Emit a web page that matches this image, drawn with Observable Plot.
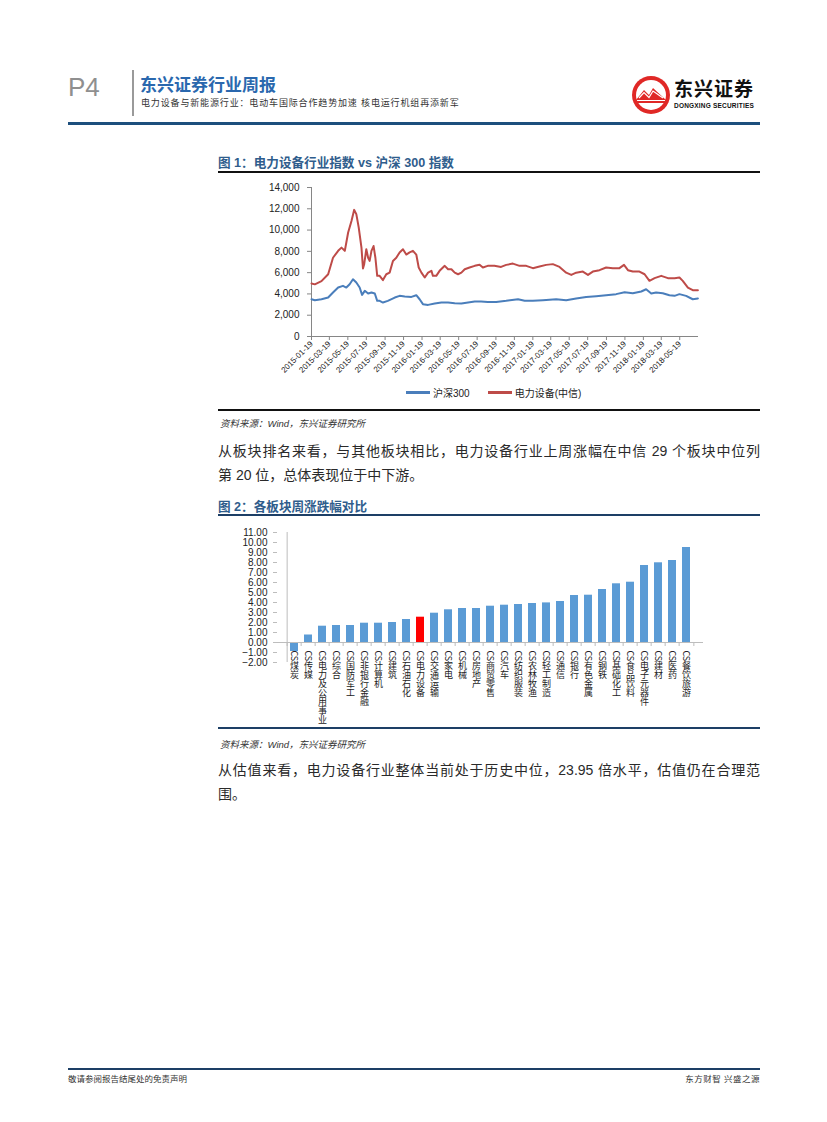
<!DOCTYPE html>
<html><head><meta charset="utf-8">
<script src="https://cdn.jsdelivr.net/npm/d3@7"></script>
<script src="https://cdn.jsdelivr.net/npm/@observablehq/plot@0.6"></script>
<style>
body{margin:0;background:#fff;}
#page{position:relative;width:827px;height:1122px;overflow:hidden;background:#fff;font-family:"Liberation Sans",Arial,"Noto Sans CJK SC",sans-serif;color:#222;}
.abs{position:absolute;white-space:nowrap;}
.figt{font-size:12.6px;font-weight:bold;color:#2f5d8c;}
.src{font-size:9.5px;font-style:italic;color:#333;}
.para{width:542px;font-size:14px;line-height:24px;color:#2a2a2a;text-align:justify;}
.just{text-align-last:justify;}
.leg{display:flex;align-items:center;font-size:10px;color:#222;}
.leg span.sw{display:inline-block;width:24px;height:2.5px;margin-right:3px;}
</style></head>
<body><div id="page">
  <div class="abs" style="left:68px;top:72px;font-size:26px;color:#8f8f8f;font-family:'Liberation Sans',Arial;">P4</div>
  <div class="abs" style="left:132px;top:70px;width:2px;height:46px;background:#9a9a9a;"></div>
  <div class="abs" style="left:140px;top:71px;font-size:17px;font-weight:bold;color:#2a68ae;">东兴证券行业周报</div>
  <div class="abs" style="left:141px;top:96px;font-size:9px;letter-spacing:0.85px;color:#333;">电力设备与新能源行业：电动车国际合作趋势加速 核电运行机组再添新军</div>
  <svg class="abs" style="left:630px;top:74px;" width="42" height="42" viewBox="0 0 42 42">
    <circle cx="21" cy="21" r="19" fill="#e02826"/>
    <circle cx="21" cy="21" r="15" fill="#fff"/>
    <path d="M6,26 L14,16 L19,21 L23,14 L36,26 Z" fill="#e02826"/>
    <path d="M9,24 L14,18.5 L19,23.5 L23,17 L33,24" fill="none" stroke="#fff" stroke-width="1.2"/>
    <path d="M7,28 L36,28" stroke="#e02826" stroke-width="2"/>
  </svg>
  <div class="abs" style="left:674px;top:80px;font-size:19px;line-height:19px;font-weight:bold;color:#111;letter-spacing:1px;">东兴证券</div>
  <div class="abs" style="left:674px;top:102px;font-size:6.5px;line-height:7px;font-weight:bold;color:#111;letter-spacing:0.2px;">DONGXING SECURITIES</div>
  <div class="abs" style="left:68px;top:122px;width:692px;height:3px;background:#1d4f7d;"></div>

  <div class="abs figt" style="left:218px;top:152px;">图 1：电力设备行业指数 vs 沪深 300 指数</div>
  <div class="abs" style="left:218px;top:171px;width:542px;height:1.5px;background:#111;"></div>
  <div class="abs" id="chart1" style="left:218px;top:176px;"></div>
  <div class="abs leg" style="left:406px;top:385px;">
    <span class="sw" style="background:#4a7ebb"></span><span id="leg0">沪深300</span>
    <span class="sw" style="background:#be4b48;margin-left:18px"></span><span id="leg1">电力设备(中信)</span>
  </div>
  <div class="abs" style="left:218px;top:409px;width:542px;height:1.5px;background:#111;"></div>
  <div class="abs src" style="left:220px;top:416px;">资料来源：Wind，东兴证券研究所</div>

  <div class="abs para just" style="left:218px;top:439px;">从板块排名来看，与其他板块相比，电力设备行业上周涨幅在中信 29 个板块中位列</div>
  <div class="abs para" style="left:218px;top:463px;">第 20 位，总体表现位于中下游。</div>

  <div class="abs figt" style="left:218px;top:496px;">图 2：各板块周涨跌幅对比</div>
  <div class="abs" style="left:218px;top:514px;width:542px;height:1.5px;background:#1d3f66;"></div>
  <div class="abs" id="chart2" style="left:218px;top:522px;"></div>
  <div class="abs" style="left:218px;top:727px;width:542px;height:1.5px;background:#1d3f66;"></div>
  <div class="abs src" style="left:220px;top:737px;">资料来源：Wind，东兴证券研究所</div>

  <div class="abs para just" style="left:218px;top:758px;">从估值来看，电力设备行业整体当前处于历史中位，23.95 倍水平，估值仍在合理范</div>
  <div class="abs para" style="left:218px;top:782px;">围。</div>

  <div class="abs" style="left:68px;top:1068px;width:692px;height:2px;background:#1d3f66;"></div>
  <div class="abs" style="left:68px;top:1072px;font-size:8.5px;color:#333;">敬请参阅报告结尾处的免责声明</div>
  <div class="abs" style="left:660px;top:1072px;width:100px;text-align:right;font-size:8.5px;color:#333;letter-spacing:0.5px;">东方财智 兴盛之源</div>
</div>
<script>
// ---- Figure 1 data: index levels ----
const hs300 = [
["2015-01-19",3500],["2015-01-30",3410],["2015-02-21",3500],["2015-03-15",3660],["2015-03-31",4130],
["2015-04-17",4600],["2015-05-03",4760],["2015-05-14",4600],["2015-05-25",4910],["2015-06-05",5380],
["2015-06-16",5070],["2015-06-27",4600],["2015-07-05",3910],["2015-07-14",4290],["2015-07-25",4040],
["2015-08-05",4130],["2015-08-16",4040],["2015-08-24",3350],["2015-09-01",3350],["2015-09-12",3190],
["2015-09-28",3350],["2015-10-21",3660],["2015-11-06",3820],["2015-11-23",3760],["2015-12-15",3720],
["2015-12-31",3880],["2016-01-11",3500],["2016-01-22",3040],["2016-02-08",2970],["2016-03-01",3100],
["2016-03-23",3190],["2016-04-14",3190],["2016-05-06",3130],["2016-05-28",3100],["2016-06-19",3190],
["2016-07-11",3290],["2016-08-01",3290],["2016-08-23",3250],["2016-09-20",3250],["2016-10-23",3350],
["2016-12-01",3500],["2016-12-23",3350],["2017-01-19",3350],["2017-02-21",3410],["2017-04-06",3500],
["2017-05-09",3410],["2017-06-11",3570],["2017-07-14",3720],["2017-08-16",3790],["2017-09-18",3880],
["2017-10-21",3980],["2017-11-18",4160],["2017-12-15",4070],["2018-01-12",4230],["2018-01-28",4440],
["2018-02-14",4040],["2018-03-02",4130],["2018-03-24",4070],["2018-04-15",3880],["2018-05-02",3820],
["2018-05-18",3980],["2018-06-09",3820],["2018-07-01",3500],["2018-07-18",3570]
];
const dlsb = [
["2015-01-19",4980],["2015-01-30",4900],["2015-02-21",5200],["2015-03-15",5850],["2015-03-31",7400],
["2015-04-17",8050],["2015-04-28",8350],["2015-05-09",8050],["2015-05-20",9770],["2015-05-31",10860],
["2015-06-09",11900],["2015-06-16",11500],["2015-06-24",10230],["2015-07-03",8350],["2015-07-08",6400],
["2015-07-12",6800],["2015-07-19",8200],["2015-07-25",7400],["2015-07-30",7100],["2015-08-05",8050],
["2015-08-12",8500],["2015-08-18",7400],["2015-08-24",5700],["2015-09-01",5700],["2015-09-12",5300],
["2015-09-23",5850],["2015-10-04",6000],["2015-10-15",7100],["2015-10-26",7400],["2015-11-06",7900],
["2015-11-17",8200],["2015-11-28",7700],["2015-12-09",7900],["2015-12-20",8050],["2015-12-31",7700],
["2016-01-08",6480],["2016-01-17",6000],["2016-01-28",5540],["2016-02-08",6000],["2016-02-19",6170],
["2016-02-24",5700],["2016-03-06",5700],["2016-03-17",6170],["2016-04-03",6640],["2016-04-14",6320],
["2016-04-25",6320],["2016-05-06",6000],["2016-05-17",5850],["2016-05-28",6000],["2016-06-08",6320],
["2016-06-24",6480],["2016-07-11",6640],["2016-07-27",6750],["2016-08-07",6480],["2016-08-23",6640],
["2016-09-14",6640],["2016-10-06",6540],["2016-10-23",6730],["2016-11-14",6850],["2016-12-06",6640],
["2016-12-28",6640],["2017-01-19",6420],["2017-02-10",6570],["2017-03-04",6730],["2017-03-26",6800],
["2017-04-17",6540],["2017-05-09",6000],["2017-05-26",5790],["2017-06-11",6000],["2017-07-03",6100],
["2017-07-20",5790],["2017-08-05",6100],["2017-08-27",6230],["2017-09-18",6480],["2017-10-10",6420],
["2017-11-01",6420],["2017-11-16",6730],["2017-11-29",6230],["2017-12-15",6100],["2018-01-06",6100],
["2018-01-23",5850],["2018-02-08",5230],["2018-02-25",5480],["2018-03-19",5700],["2018-04-10",5480],
["2018-05-02",5480],["2018-05-18",5540],["2018-05-29",5230],["2018-06-15",4600],["2018-07-01",4350],
["2018-07-18",4350]
];
const seriesNames = ["沪深300","电力设备(中信)"];
const seriesColors = ["#4a7ebb","#be4b48"];
const xTickLabels = ["2015-01-19","2015-03-19","2015-05-19","2015-07-19","2015-09-19","2015-11-19",
"2016-01-19","2016-03-19","2016-05-19","2016-07-19","2016-09-19","2016-11-19",
"2017-01-19","2017-03-19","2017-05-19","2017-07-19","2017-09-19","2017-11-19",
"2018-01-19","2018-03-19","2018-05-19"];
const xDomain1 = ["2015-01-19","2018-07-20"];
const yTicks1 = [0,2000,4000,6000,8000,10000,12000,14000];

// ---- Figure 2 data: weekly change (%) by CITIC sector ----
const sectors = ["煤炭","传媒","电力及公用事业","综合","国防军工","非银行金融","计算机","建筑","石油石化","电力设备",
"交通运输","家电","机械","房地产","商贸零售","汽车","纺织服装","农林牧渔","轻工制造","通信",
"银行","有色金属","钢铁","基础化工","食品饮料","电子元器件","建材","医药","餐饮旅游"];
const changes = [-0.9,0.75,1.63,1.70,1.70,1.93,1.93,2.00,2.30,2.53,
2.93,3.27,3.40,3.40,3.63,3.73,3.80,3.90,3.96,4.10,
4.70,4.73,5.30,5.87,6.03,7.70,7.97,8.20,9.50];
const highlight = "电力设备";
const yTicks2 = [-2,-1,0,1,2,3,4,5,6,7,8,9,10,11];

document.getElementById("leg0").textContent = seriesNames[0];
document.getElementById("leg1").textContent = seriesNames[1];

const parse = d3.utcParse("%Y-%m-%d");
const axisGray = "#868686";
const font = "'Liberation Sans', Arial, 'Noto Sans CJK SC', sans-serif";

const rows1 = [
  ...hs300.map(([d, v]) => ({date: parse(d), value: v, series: seriesNames[0]})),
  ...dlsb.map(([d, v]) => ({date: parse(d), value: v, series: seriesNames[1]}))
];

const chart1 = Plot.plot({
  width: 542, height: 208,
  marginLeft: 93, marginRight: 62, marginTop: 11, marginBottom: 48,
  style: {fontFamily: font, fontSize: "10px", color: "#222", background: "transparent", overflow: "visible"},
  x: {type: "utc", domain: xDomain1.map(parse)},
  y: {domain: [0, 14000]},
  color: {domain: seriesNames, range: seriesColors},
  marks: [
    Plot.ruleX([parse(xDomain1[0])], {stroke: axisGray}),
    Plot.ruleY([0], {stroke: axisGray}),
    Plot.axisY({ticks: yTicks1, tickFormat: d3.format(","), tickSize: 4, tickPadding: 8, label: null, stroke: axisGray, fill: "#222", fontSize: 10}),
    Plot.axisX({ticks: xTickLabels.map(parse), tickFormat: d3.utcFormat("%Y-%m-%d"), tickRotate: -45, tickSize: 4, tickPadding: 2, label: null, stroke: axisGray, fill: "#222", fontSize: 8}),
    Plot.line(rows1, {x: "date", y: "value", z: "series", stroke: "series", strokeWidth: 2})
  ]
});
document.getElementById("chart1").appendChild(chart1);

const rows2 = sectors.map((s, i) => ({name: s, value: changes[i]}));
const w2 = 542, ml2 = 59, mr2 = 57;
const step = (w2 - ml2 - mr2) / sectors.length;

const chart2 = Plot.plot({
  width: w2, height: 203,
  marginLeft: ml2, marginRight: mr2, marginTop: 10, marginBottom: 63,
  style: {fontFamily: font, fontSize: "10px", color: "#222", background: "transparent", overflow: "visible"},
  x: {domain: sectors, paddingInner: 0.43, paddingOuter: 0.215, axis: null},
  y: {domain: [-2, 11]},
  color: {type: "identity"},
  marks: [
    Plot.barY(rows2, {x: "name", y: "value", fill: d => d.name === highlight ? "#ff0000" : "#5b9bd5"}),
    Plot.ruleY([0], {stroke: "#bdbdbd"}),
    Plot.ruleX([sectors[0]], {dx: -step / 2, stroke: "#bdbdbd"}),
    Plot.ruleX(sectors, {x: d => d, y1: () => 0, y2: () => -0.4, dx: -step / 2, stroke: "#bdbdbd"}),
    Plot.ruleX([sectors[sectors.length - 1]], {y1: () => 0, y2: () => -0.4, dx: step / 2, stroke: "#bdbdbd"}),
    Plot.axisY({ticks: yTicks2, tickFormat: d3.format(".2f"), tickSize: 4, tickPadding: 6, label: null, stroke: "#bdbdbd", fill: "#222", fontSize: 10}),
    Plot.text(rows2, {x: "name", y: () => 0, text: d => "CS" + d.name, textAnchor: "start", dy: 5, fontSize: 9, fill: "#222"})
  ]
});
document.getElementById("chart2").appendChild(chart2);
d3.select(chart2).selectAll('g[aria-label="text"] text')
  .attr("dy", null)
  .attr("text-anchor", "start")
  .style("writing-mode", "vertical-rl")
  .style("font-family", "'Noto Sans CJK SC', sans-serif");
</script>
</body></html>
